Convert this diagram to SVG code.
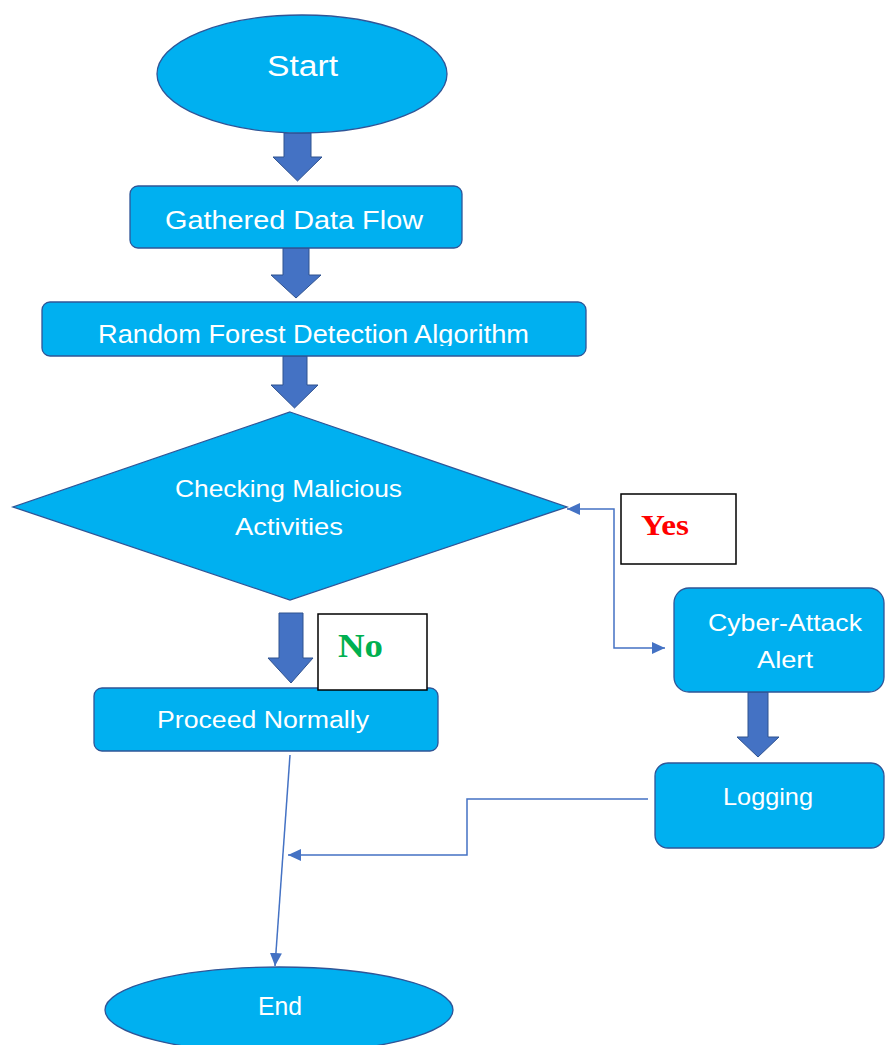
<svg xmlns="http://www.w3.org/2000/svg" width="885" height="1045" viewBox="0 0 885 1045">
<style>
.node{fill:#00B0F0;stroke:#2F5597;stroke-width:1.3}
.blk{fill:#4472C4;stroke:#2F528F;stroke-width:1}
.t{font-family:"Liberation Sans",Arial,sans-serif;fill:#FFFFFF;text-anchor:middle}
.lbl{fill:#FFFFFF;stroke:#000000;stroke-width:1.5}
.conn{fill:none;stroke:#4472C4;stroke-width:1.5}
</style>
<defs>
<marker id="ah" markerUnits="userSpaceOnUse" markerWidth="14" markerHeight="12" refX="13" refY="6" orient="auto-start-reverse">
<path d="M0,0 L13,6 L0,12 z" fill="#4472C4"/>
</marker>
<clipPath id="rfclip"><rect x="42" y="300" width="544" height="46"/></clipPath>
</defs>
<rect width="885" height="1045" fill="#FFFFFF"/>

<g id="connectors">
<polygon class="blk" points="284,133 311,133 311,157 322,157 297.5,181 273,157 284,157"/>
<polygon class="blk" points="283,248 309,248 309,275 321,275 296,298 271,275 283,275"/>
<polygon class="blk" points="283,356 307,356 307,385 318,385 294.5,408 271,385 283,385"/>
<polygon class="blk" points="279,613 303,613 303,658 313,658 291,683 268,658 279,658"/>
<polygon class="blk" points="748,692 768,692 768,737 779,737 758,757 737,737 748,737"/>
<path class="conn" d="M567,509 L614,509 L614,648 L665,648" marker-start="url(#ah)" marker-end="url(#ah)"/>
<path class="conn" d="M648,799 L467,799 L467,855 L288,855" marker-end="url(#ah)"/>
<path class="conn" d="M290,755 L275,966" marker-end="url(#ah)"/>
</g>

<g id="start">
<ellipse class="node" cx="302" cy="74" rx="145" ry="59"/>
<text class="t" x="302.5" y="76" font-size="29" textLength="71" lengthAdjust="spacingAndGlyphs">Start</text>
</g>

<g id="gathered">
<rect class="node" x="130" y="186" width="332" height="62" rx="8"/>
<text class="t" x="294" y="229" font-size="26.5" textLength="258" lengthAdjust="spacingAndGlyphs">Gathered Data Flow</text>
</g>

<g id="random-forest">
<rect class="node" x="42" y="302" width="544" height="54" rx="8"/>
<text class="t" x="313.5" y="343" font-size="25" textLength="431" lengthAdjust="spacingAndGlyphs" clip-path="url(#rfclip)">Random Forest Detection Algorithm</text>
</g>

<g id="checking">
<polygon class="node" points="290,412 567,507 290,600 13,507"/>
<text class="t" x="288.5" y="497" font-size="24" textLength="227" lengthAdjust="spacingAndGlyphs">Checking Malicious</text>
<text class="t" x="289" y="535" font-size="24" textLength="108" lengthAdjust="spacingAndGlyphs">Activities</text>
</g>

<g id="yes-label">
<rect class="lbl" x="621" y="494" width="115" height="70"/>
<text x="641" y="535" font-family="'Liberation Serif','Times New Roman',serif" font-weight="bold" font-size="30" fill="#FF0000" textLength="48" lengthAdjust="spacingAndGlyphs">Yes</text>
</g>

<g id="proceed">
<rect class="node" x="94" y="688" width="344" height="63" rx="8"/>
<text class="t" x="263" y="728" font-size="23" textLength="212" lengthAdjust="spacingAndGlyphs">Proceed Normally</text>
</g>

<g id="no-label">
<rect class="lbl" x="318" y="614" width="109" height="76"/>
<text x="338" y="657" font-family="'Liberation Serif','Times New Roman',serif" font-weight="bold" font-size="34" fill="#00B050" textLength="45" lengthAdjust="spacingAndGlyphs">No</text>
</g>

<g id="cyber-alert">
<rect class="node" x="674" y="588" width="210" height="104" rx="15"/>
<text class="t" x="785" y="631" font-size="24" textLength="154" lengthAdjust="spacingAndGlyphs">Cyber-Attack</text>
<text class="t" x="785" y="668" font-size="24" textLength="56" lengthAdjust="spacingAndGlyphs">Alert</text>
</g>

<g id="logging">
<rect class="node" x="655" y="763" width="229" height="85" rx="13"/>
<text class="t" x="768" y="805" font-size="24" textLength="90" lengthAdjust="spacingAndGlyphs">Logging</text>
</g>

<g id="end">
<ellipse class="node" cx="279" cy="1010" rx="174" ry="43"/>
<text class="t" x="280" y="1015" font-size="25" textLength="44" lengthAdjust="spacingAndGlyphs">End</text>
</g>
</svg>
